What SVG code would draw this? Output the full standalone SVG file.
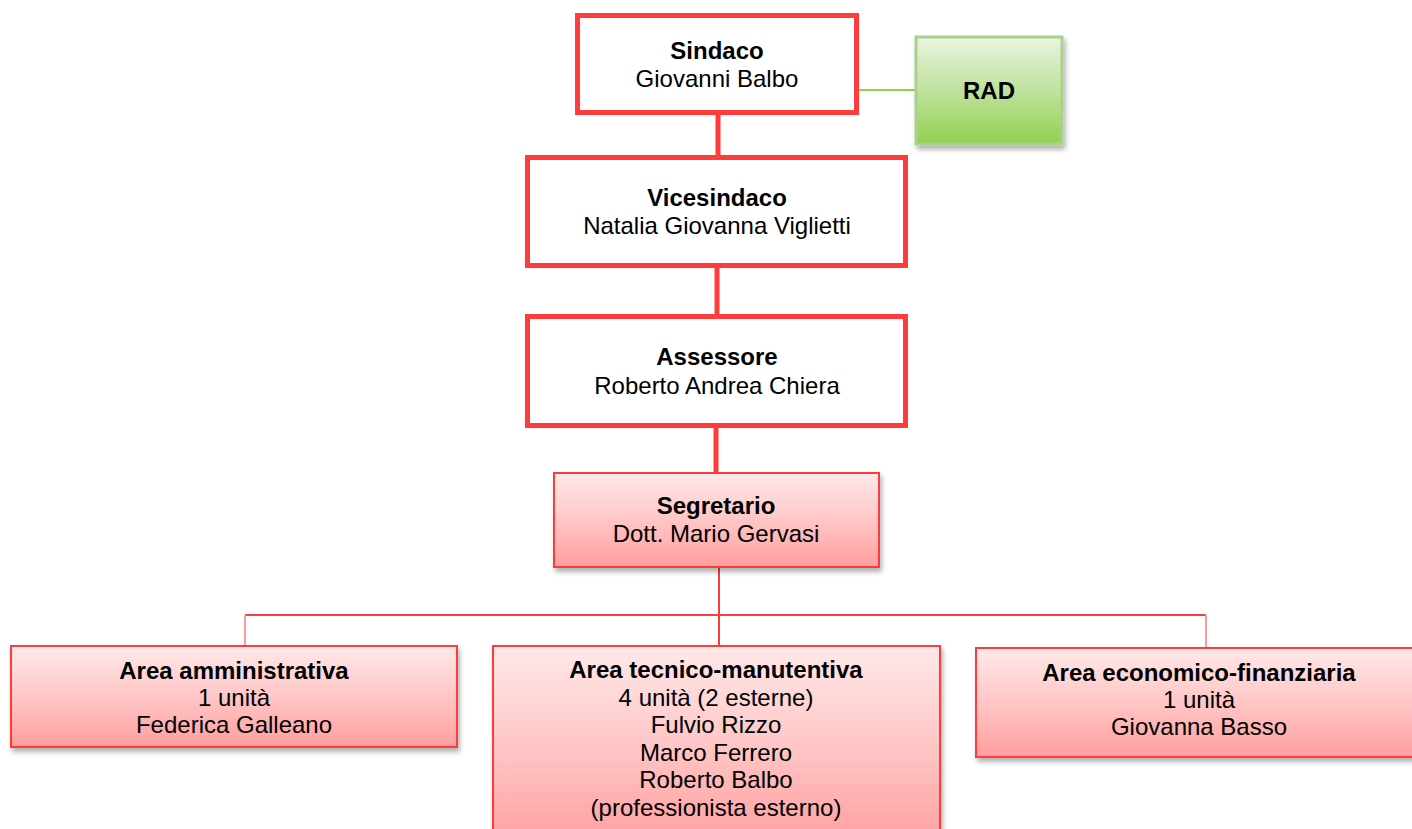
<svg xmlns="http://www.w3.org/2000/svg" width="1412" height="829" viewBox="0 0 1412 829">
<defs>
<linearGradient id="pink" x1="0" y1="0" x2="0" y2="1">
<stop offset="0" stop-color="#ffe9e9"/>
<stop offset="0.5" stop-color="#ffc6c6"/>
<stop offset="1" stop-color="#ff9e9e"/>
</linearGradient>
<linearGradient id="green" x1="0" y1="0" x2="0" y2="1">
<stop offset="0" stop-color="#eaf4e0"/>
<stop offset="0.5" stop-color="#c0e29e"/>
<stop offset="1" stop-color="#92d050"/>
</linearGradient>
<filter id="sh" x="-10%" y="-10%" width="130%" height="140%">
<feDropShadow dx="2" dy="4" stdDeviation="2.5" flood-color="#000" flood-opacity="0.3"/>
</filter>
</defs>
<style>
text{font-family:"Liberation Sans",Arial,sans-serif;font-size:24px;fill:#000;text-anchor:middle}
.b{font-weight:bold}
.top{fill:#fff;stroke:#ff3b3b;stroke-width:5}
.area{fill:url(#pink);stroke:#ff3b3b;stroke-width:2}
.rad{fill:url(#green);stroke:#a9d18e;stroke-width:3}
.thick{stroke:#ff3b3b;stroke-width:5;fill:none}
.thin{stroke:#ff3b3b;stroke-width:2;fill:none}
.light{stroke:#ff9a9a;stroke-width:2;fill:none}
</style>
<rect width="1412" height="829" fill="#fff"/>
<g id="connectors">
<line class="thick" x1="718" y1="112" x2="718" y2="158"/>
<line class="thick" x1="717" y1="265" x2="717" y2="317"/>
<line class="thick" x1="716" y1="426" x2="716" y2="474"/>
<line x1="857" y1="90" x2="915" y2="90" stroke="#92d050" stroke-width="2"/>
<line class="thin" x1="719" y1="567" x2="719" y2="646"/>
<line class="thin" x1="245" y1="615" x2="1206" y2="615"/>
<line class="light" x1="245" y1="615" x2="245" y2="646"/>
<line class="light" x1="1206" y1="615" x2="1206" y2="648"/>
</g>
<g id="sindaco">
<rect class="top" x="577.5" y="15.5" width="279" height="97"/>
<text class="b" x="717" y="59">Sindaco</text>
<text x="717" y="87">Giovanni Balbo</text>
</g>
<g id="rad">
<rect class="rad" x="916" y="37" width="146" height="107" filter="url(#sh)"/>
<text class="b" x="989" y="99">RAD</text>
</g>
<g id="vicesindaco">
<rect class="top" x="527.5" y="157.5" width="378" height="108"/>
<text class="b" x="717" y="206">Vicesindaco</text>
<text x="717" y="234">Natalia Giovanna Viglietti</text>
</g>
<g id="assessore">
<rect class="top" x="527.5" y="316.5" width="378" height="109"/>
<text class="b" x="717" y="365">Assessore</text>
<text x="717" y="394">Roberto Andrea Chiera</text>
</g>
<g id="segretario">
<rect class="area" x="554" y="473" width="325" height="94" filter="url(#sh)"/>
<text class="b" x="716" y="514">Segretario</text>
<text x="716" y="542">Dott. Mario Gervasi</text>
</g>
<g id="area-amministrativa">
<rect class="area" x="11" y="646" width="446" height="101" filter="url(#sh)"/>
<text class="b" x="234" y="679">Area amministrativa</text>
<text x="234" y="706">1 unità</text>
<text x="234" y="733">Federica Galleano</text>
</g>
<g id="area-tecnico">
<rect class="area" x="493" y="646" width="447" height="200" filter="url(#sh)"/>
<text class="b" x="716" y="678">Area tecnico-manutentiva</text>
<text x="716" y="705.5">4 unità (2 esterne)</text>
<text x="716" y="733">Fulvio Rizzo</text>
<text x="716" y="760.5">Marco Ferrero</text>
<text x="716" y="788">Roberto Balbo</text>
<text x="716" y="815.5">(professionista esterno)</text>
</g>
<g id="area-economico">
<rect class="area" x="976" y="648" width="446" height="109" filter="url(#sh)"/>
<text class="b" x="1199" y="681">Area economico-finanziaria</text>
<text x="1199" y="708">1 unità</text>
<text x="1199" y="735">Giovanna Basso</text>
</g>
</svg>
